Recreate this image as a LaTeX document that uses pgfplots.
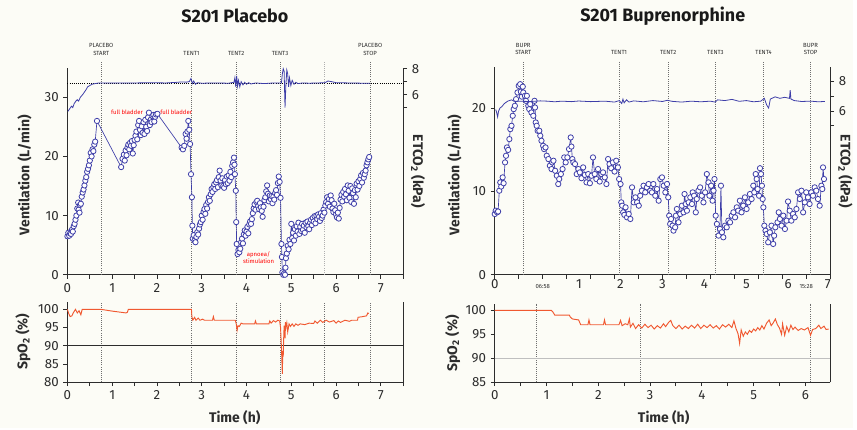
\documentclass[border=0pt]{standalone}
\usepackage{pgfplots}
\pgfplotsset{compat=1.18}
\usepackage{fontspec}
\setmainfont{Fira Sans}
\definecolor{vblue}{RGB}{62,62,168}
\definecolor{sred}{RGB}{240,88,48}
\definecolor{bgc}{RGB}{252,252,246}
\definecolor{axg}{RGB}{45,45,45}
\definecolor{dotg}{RGB}{110,110,110}
\tikzset{vdot/.style={dotg, densely dotted, line width=0.6pt},
  tl/.style={font=\fontsize{4.5}{5.5}\selectfont, align=center, anchor=south, text=axg}}
\pgfplotsset{
  base/.style={scale only axis, clip=false, anchor=south west,
    axis line style={axg, line width=0.7pt}, tick style={axg, line width=0.7pt},
    tick align=outside, major tick length=3pt, minor tick length=2pt,
    ticklabel style={font=\fontsize{10}{12}\selectfont, text=axg},
    /pgf/number format/assume math mode=true},
  vent/.style={vblue, line width=0.5pt, mark=*, mark size=2pt, mark options={fill=white, draw=vblue, line width=0.6pt}},
  etco/.style={vblue, line width=0.6pt, no markers},
  spo/.style={sred, line width=0.7pt, no markers},
}
\begin{document}
\begin{tikzpicture}
\fill[bgc] (0,0) rectangle (642.75pt,322.5pt);
% ---------------- LEFT TOP : Placebo ventilation ----------------
\begin{axis}[base, at={(50.8pt,115.5pt)}, width=253pt, height=156pt,
  xmin=0, xmax=7.5, ymin=0, ymax=35, axis x line*=bottom, axis y line*=left,
  xtick={0,0.5,...,7.5}, xticklabels={0,,1,,2,,3,,4,,5,,6,,7,},
  ytick={0,10,20,30}]
\draw[vdot] (axis cs:0.755,0) -- (axis cs:0.755,36);
\draw[vdot] (axis cs:2.77,0) -- (axis cs:2.77,36);
\draw[vdot] (axis cs:3.77,0) -- (axis cs:3.77,36);
\draw[vdot] (axis cs:4.75,0) -- (axis cs:4.75,36);
\draw[vdot] (axis cs:6.76,0) -- (axis cs:6.76,36);
\draw[vdot, dotg!55] (axis cs:5.75,0) -- (axis cs:5.75,36);
\addplot[vent] coordinates {
(0.00,6.5)(0.02,7.1)(0.04,6.6)(0.06,7.0)(0.08,6.9)(0.10,7.6)(0.12,7.3)(0.14,8.2)(0.16,8.6)(0.18,9.3)
(0.20,10.0)(0.22,11.2)(0.24,12.2)(0.25,11.0)(0.27,10.5)(0.28,11.8)(0.30,12.0)(0.32,13.2)(0.34,13.9)(0.36,14.4)
(0.38,15.1)(0.40,15.9)(0.42,16.5)(0.44,17.4)(0.46,17.9)(0.48,18.5)(0.50,19.3)(0.52,20.6)(0.54,20.0)(0.56,21.2)
(0.58,20.9)(0.60,22.0)(0.62,22.5)(0.66,26.0)
(1.20,18.2)(1.23,19.6)(1.26,20.3)(1.28,19.3)(1.30,21.0)(1.32,20.2)(1.34,21.5)(1.36,22.0)(1.38,21.2)(1.40,22.3)
(1.42,21.8)(1.44,22.6)(1.46,20.5)(1.48,21.9)(1.50,22.8)(1.52,23.5)(1.54,24.2)(1.56,22.9)(1.58,25.3)(1.60,26.0)
(1.62,24.5)(1.64,23.6)(1.66,25.1)(1.68,24.0)(1.70,25.8)(1.72,23.8)(1.74,26.2)(1.76,25.0)(1.78,24.3)(1.80,26.6)
(1.82,27.4)(1.84,25.3)(1.86,26.2)(1.88,25.8)(1.90,26.8)(1.92,27.0)(1.94,25.9)(1.96,26.7)(1.98,27.1)(2.01,27.2)
(2.55,21.5)(2.58,21.2)(2.61,21.8)(2.64,23.8)(2.66,23.0)(2.68,24.2)(2.70,26.0)(2.72,24.5)(2.74,22.1)(2.76,17.0)
(2.78,13.1)(2.79,8.3)(2.80,6.1)(2.82,6.7)(2.84,5.8)(2.86,5.5)(2.88,6.4)(2.90,7.2)(2.92,6.8)(2.94,7.8)
(2.96,8.5)(2.98,8.9)(3.00,10.0)(3.02,9.3)(3.04,10.6)(3.06,11.1)(3.08,10.3)(3.10,11.8)(3.12,11.2)(3.14,12.3)
(3.16,13.1)(3.18,12.5)(3.20,13.6)(3.22,14.5)(3.24,14.0)(3.26,14.8)(3.28,15.3)(3.30,14.5)(3.32,15.6)(3.34,16.0)
(3.36,14.8)(3.38,16.5)(3.40,17.6)(3.42,15.9)(3.44,15.1)(3.46,16.3)(3.48,15.0)(3.50,14.7)(3.52,16.0)(3.54,15.3)
(3.56,16.6)(3.58,15.5)(3.60,16.8)(3.62,15.9)(3.64,17.4)(3.66,16.5)(3.68,18.4)(3.70,19.0)(3.72,19.8)(3.73,18.6)
(3.74,17.0)(3.76,14.2)(3.77,8.9)(3.78,5.2)(3.80,3.5)(3.82,4.2)(3.84,3.8)(3.86,4.4)(3.88,5.5)(3.90,6.1)
(3.92,5.3)(3.94,6.8)(3.96,7.5)(3.98,6.6)(4.00,7.3)(4.02,8.1)(4.04,7.0)(4.06,8.5)(4.08,9.0)(4.10,8.6)
(4.12,9.4)(4.14,10.4)(4.16,11.2)(4.18,11.9)(4.20,11.0)(4.22,12.3)(4.24,12.5)(4.26,11.6)(4.28,11.1)(4.30,12.1)
(4.32,11.4)(4.34,10.8)(4.36,9.8)(4.38,11.5)(4.40,12.6)(4.42,13.1)(4.44,14.1)(4.46,15.1)(4.48,13.7)(4.50,12.4)
(4.52,13.4)(4.54,12.8)(4.56,13.3)(4.58,12.1)(4.60,13.2)(4.62,12.7)(4.64,13.8)(4.66,14.3)(4.68,13.5)(4.70,15.5)
(4.72,16.6)(4.74,15.7)(4.76,13.0)(4.78,5.2)(4.79,3.0)(4.80,0.4)(4.82,0.0)(4.84,0.2)(4.86,0.0)(4.87,1.2)
(4.88,2.8)(4.90,3.6)(4.92,4.9)(4.94,4.3)(4.96,5.9)(4.98,5.2)(5.00,8.6)(5.02,6.2)(5.04,7.1)(5.06,5.8)
(5.08,7.7)(5.10,6.6)(5.12,8.2)(5.14,7.3)(5.16,8.8)(5.18,6.9)(5.20,8.1)(5.22,7.4)(5.24,8.6)(5.26,7.6)
(5.28,8.3)(5.30,7.1)(5.32,8.8)(5.34,8.0)(5.36,9.0)(5.38,8.2)(5.40,7.7)(5.42,8.8)(5.44,9.3)(5.46,8.4)
(5.48,9.6)(5.50,9.0)(5.52,9.9)(5.54,8.7)(5.56,10.0)(5.58,9.4)(5.60,10.2)(5.62,9.8)(5.64,9.1)(5.66,10.4)
(5.68,9.6)(5.70,10.0)(5.72,11.0)(5.74,10.5)(5.76,11.7)(5.78,12.3)(5.80,13.1)(5.82,12.0)(5.84,12.8)(5.86,11.5)
(5.88,13.4)(5.90,12.6)(5.92,11.2)(5.94,10.6)(5.96,12.0)(5.98,10.9)(6.00,10.2)(6.02,9.7)(6.04,10.5)(6.06,9.5)
(6.08,11.3)(6.10,12.7)(6.12,13.5)(6.14,12.4)(6.16,14.0)(6.18,13.2)(6.20,14.5)(6.22,13.6)(6.24,12.6)(6.26,15.1)
(6.28,14.2)(6.30,13.0)(6.32,15.0)(6.34,12.3)(6.36,14.6)(6.38,13.8)(6.40,12.0)(6.42,14.3)(6.44,13.1)(6.46,15.4)
(6.48,14.4)(6.50,15.8)(6.52,15.0)(6.54,16.2)(6.56,16.8)(6.58,15.6)(6.60,17.2)(6.62,16.4)(6.64,17.0)(6.66,17.6)
(6.68,18.5)(6.70,19.0)(6.72,19.5)(6.74,19.9)};
\node[text=red, font=\fontsize{4.5}{5}\selectfont] at (axis cs:1.33,27.5) {full bladder};
\node[text=red, font=\fontsize{4.5}{5}\selectfont] at (axis cs:2.43,27.5) {full bladder};
\node[text=red, font=\fontsize{4.5}{5}\selectfont, align=center] at (axis cs:4.27,2.9) {apnoea/\\stimulation};
\node[tl] at (axis cs:0.755,36.3) {PLACEBO\\START};
\node[tl] at (axis cs:2.77,36.3) {TENT1};
\node[tl] at (axis cs:3.77,36.3) {TENT2};
\node[tl] at (axis cs:4.75,36.3) {TENT3};
\node[tl] at (axis cs:6.76,36.3) {PLACEBO\\STOP};
\end{axis}
\begin{axis}[base, at={(50.8pt,115.5pt)}, width=253pt, height=156pt,
  xmin=0, xmax=7.5, ymin=-7.92, ymax=8.08, axis x line=none, axis y line*=right,
  ytick={5,6,7,8}, yticklabels={,6,,8}]
\draw[black, densely dotted, line width=0.6pt] (axis cs:0,6.9) -- (axis cs:7.5,6.9);
\addplot[etco] coordinates {
(0.01,4.7)(0.05,4.9)(0.09,5.1)(0.12,5.0)(0.15,5.3)(0.19,5.5)(0.22,5.6)(0.25,5.5)(0.29,5.8)(0.34,6.0)
(0.38,6.2)(0.42,6.4)(0.45,6.6)(0.5,6.7)(0.55,6.8)(0.62,6.85)(0.7,6.9)(1.0,6.9)(1.5,6.9)(1.9,6.92)
(2.2,6.9)(2.45,6.95)(2.55,6.98)(2.65,6.96)(2.72,7.0)(2.76,7.25)(2.79,6.85)(2.82,7.05)(2.86,6.8)(2.9,6.92)
(3.0,6.88)(3.3,6.9)(3.6,6.88)(3.72,6.95)(3.74,7.3)(3.76,6.6)(3.78,7.45)(3.8,6.65)(3.82,7.1)(3.85,6.6)
(3.88,7.0)(3.92,6.75)(3.96,6.95)(4.0,6.8)(4.05,6.92)(4.1,6.82)(4.2,6.9)(4.4,6.85)(4.6,6.9)(4.78,6.9)
(4.8,7.6)(4.82,8.0)(4.84,7.8)(4.86,5.0)(4.88,6.8)(4.9,7.9)(4.92,7.6)(4.94,6.6)(4.96,7.3)(4.99,6.7)
(5.02,7.1)(5.06,6.8)(5.1,6.95)(5.15,6.85)(5.25,6.9)(5.4,6.88)(5.6,6.9)(5.75,6.92)(5.82,7.05)(5.9,7.0)
(6.0,6.92)(6.3,6.9)(6.6,6.88)(6.76,6.88)};
\end{axis}
% ---------------- LEFT BOTTOM : Placebo SpO2 ----------------
\begin{axis}[base, at={(50.8pt,34.5pt)}, width=253pt, height=60.75pt,
  xmin=0, xmax=7.5, ymin=80, ymax=102.1, axis x line*=bottom, axis y line*=left,
  xtick={0,0.5,...,7.5}, xticklabels={0,,1,,2,,3,,4,,5,,6,,7,},
  ytick={80,85,90,95,100}]
\draw[vdot] (axis cs:0.755,80) -- (axis cs:0.755,102.1);
\draw[vdot] (axis cs:2.77,80) -- (axis cs:2.77,102.1);
\draw[vdot] (axis cs:3.77,80) -- (axis cs:3.77,102.1);
\draw[vdot] (axis cs:4.75,80) -- (axis cs:4.75,102.1);
\draw[vdot] (axis cs:5.75,80) -- (axis cs:5.75,102.1);
\draw[vdot] (axis cs:6.76,80) -- (axis cs:6.76,102.1);
\draw[axg, line width=0.7pt] (axis cs:0,90) -- (axis cs:7.5,90);
\draw[axg, line width=0.7pt] (rel axis cs:1,0) -- (rel axis cs:1,1);
\addplot[spo] coordinates {
(0.00,100)(0.03,98.8)(0.06,98)(0.10,98.2)(0.13,99)(0.18,100)(0.22,99)(0.26,99.6)(0.30,98.5)(0.33,100)
(0.40,100)(0.74,100)(1.00,99.5)(1.31,99)(1.34,99.2)(1.36,100)(2.77,100)(2.78,98)(2.80,97)(2.84,97.8)
(2.87,97)(2.92,97.6)(2.96,97)(3.02,97.3)(3.06,97)(3.10,97)(3.24,97)(3.26,98)(3.28,97)(3.75,97)
(3.77,96)(3.79,94.2)(3.81,95.5)(3.84,95.3)(3.88,96.2)(3.92,96)(4.00,96)(4.18,96)(4.20,96.8)(4.22,96)
(4.50,96)(4.52,96.8)(4.55,96.2)(4.60,96.9)(4.65,96.5)(4.70,97)(4.74,96.8)(4.76,95)(4.78,89.5)(4.79,86)
(4.80,82.3)(4.81,88.5)(4.82,87)(4.83,92)(4.84,95.5)(4.85,94.5)(4.86,92)(4.87,96.5)(4.88,95)(4.90,96.3)
(4.92,93.8)(4.95,96)(4.98,95.3)(5.02,96)(5.06,95.3)(5.10,96)(5.15,95.6)(5.2,96)(5.3,95.8)(5.4,96.2)
(5.5,96.1)(5.53,96.8)(5.58,96.2)(5.65,97)(5.70,96.4)(5.78,97)(5.85,96.5)(5.95,96.9)(6.00,96.2)(6.05,96.8)
(6.10,96.4)(6.20,97)(6.30,96.7)(6.35,97)(6.40,97)(6.48,97)(6.49,97.8)(6.60,98)(6.68,98.2)(6.71,99)(6.73,98.8)};
\end{axis}
% ---------------- RIGHT TOP : Buprenorphine ventilation ----------------
\begin{axis}[base, at={(372.75pt,115.5pt)}, width=252.75pt, height=156.75pt,
  xmin=0, xmax=14, ymin=0, ymax=25, axis x line*=bottom, axis y line*=left,
  xtick={0,1,...,14}, xticklabels={},
  extra x ticks={0,3.52,5.24,7.0,8.75,10.5,12.25,13.9}, extra x tick labels={0,1,2,3,4,5,6,7},
  extra x tick style={major tick length=0pt},
  ytick={0,10,20}]
\draw[vdot] (axis cs:1.19,0) -- (axis cs:1.19,25.6);
\draw[vdot] (axis cs:5.19,0) -- (axis cs:5.19,25.6);
\draw[vdot] (axis cs:7.24,0) -- (axis cs:7.24,25.6);
\draw[vdot] (axis cs:9.21,0) -- (axis cs:9.21,25.6);
\draw[vdot] (axis cs:11.22,0) -- (axis cs:11.22,25.6);
\draw[vdot] (axis cs:13.18,0) -- (axis cs:13.18,25.6);
\addplot[vent] coordinates {
(0.00,7.3)(0.04,7.7)(0.10,7.5)(0.14,7.6)(0.19,10.1)(0.23,11.1)(0.27,10.6)(0.33,11.7)(0.37,11.0)(0.43,13.5)
(0.47,14.3)(0.51,15.3)(0.56,15.0)(0.61,16.3)(0.65,17.5)(0.70,17.9)(0.75,19.1)(0.79,19.9)(0.84,20.3)(0.89,21.1)
(0.95,21.9)(1.00,22.7)(1.06,22.9)(1.09,22.0)(1.13,21.4)(1.17,22.6)(1.19,21.9)(1.26,21.5)(1.30,20.9)(1.34,21.5)
(1.40,20.3)(1.44,19.9)(1.48,20.5)(1.53,19.5)(1.61,19.1)(1.66,20.9)(1.68,20.1)(1.71,18.3)(1.75,17.9)(1.79,17.3)
(1.86,17.3)(1.90,16.7)(1.95,16.1)(2.02,15.5)(2.06,15.1)(2.12,15.3)(2.17,14.3)(2.24,13.9)(2.30,13.1)(2.37,12.7)
(2.40,13.5)(2.45,13.7)(2.52,12.5)(2.59,11.9)(2.65,10.9)(2.69,11.5)(2.76,12.1)(2.83,12.7)(2.90,14.1)(2.96,13.5)
(3.03,14.1)(3.10,15.1)(3.17,16.5)(3.20,15.4)(3.24,13.9)(3.28,13.5)(3.35,13.3)(3.42,12.1)(3.49,12.7)(3.55,12.3)
(3.62,11.6)(3.69,12.9)(3.76,12.0)(3.83,11.1)(3.90,12.1)(3.97,11.0)(4.04,11.9)(4.10,14.1)(4.17,12.1)(4.24,11.5)
(4.31,12.7)(4.38,11.2)(4.45,12.1)(4.52,12.3)(4.59,11.7)(4.66,10.9)(4.73,13.9)(4.79,13.3)(4.86,12.8)(4.93,13.5)
(5.00,12.4)(5.07,13.7)(5.14,12.9)(5.19,11.5)(5.25,10.9)(5.28,8.7)(5.32,8.3)(5.36,7.5)(5.41,7.2)(5.46,8.1)
(5.52,6.9)(5.59,7.3)(5.66,6.7)(5.73,10.5)(5.80,8.7)(5.87,9.3)(5.94,8.7)(6.01,8.3)(6.07,9.5)(6.14,10.1)
(6.21,10.7)(6.28,9.9)(6.35,10.5)(6.42,10.9)(6.49,10.1)(6.56,9.9)(6.62,10.9)(6.70,9.5)(6.77,10.3)(6.84,8.9)
(6.91,11.5)(6.98,11.7)(7.05,10.7)(7.12,9.9)(7.19,10.9)(7.24,9.3)(7.28,7.1)(7.32,6.1)(7.36,6.7)(7.42,5.9)
(7.46,5.3)(7.53,5.7)(7.56,7.1)(7.60,7.9)(7.67,6.3)(7.74,7.3)(7.81,8.3)(7.88,7.5)(7.92,9.7)(7.97,8.5)
(8.02,7.7)(8.09,8.7)(8.16,9.3)(8.23,8.5)(8.26,9.9)(8.32,9.5)(8.39,7.5)(8.43,9.1)(8.50,10.1)(8.57,10.5)
(8.64,9.5)(8.71,8.7)(8.78,9.9)(8.85,12.1)(8.92,11.1)(8.96,9.5)(9.03,10.7)(9.09,8.9)(9.13,10.1)(9.17,11.5)
(9.22,7.1)(9.27,6.1)(9.34,4.7)(9.40,5.5)(9.44,10.7)(9.48,5.1)(9.54,4.5)(9.61,5.9)(9.68,5.7)(9.75,6.5)
(9.82,6.3)(9.89,7.1)(9.96,7.5)(10.03,6.9)(10.10,8.1)(10.16,7.7)(10.23,8.9)(10.30,7.5)(10.37,8.3)(10.44,9.3)
(10.51,7.9)(10.58,8.7)(10.65,9.7)(10.72,9.1)(10.79,10.7)(10.83,9.9)(10.89,12.1)(10.93,11.5)(10.97,10.3)(11.03,9.5)
(11.07,12.8)(11.11,12.1)(11.15,10.7)(11.18,9.1)(11.21,8.1)(11.25,5.9)(11.30,5.3)(11.35,4.9)(11.41,3.9)(11.48,5.1)
(11.55,5.9)(11.62,3.7)(11.66,4.7)(11.71,5.7)(11.80,6.3)(11.85,7.5)(11.90,6.7)(11.97,5.9)(12.04,7.1)(12.11,5.5)
(12.18,6.5)(12.24,8.8)(12.31,7.7)(12.38,6.5)(12.45,7.3)(12.52,6.9)(12.59,7.9)(12.66,9.9)(12.73,9.1)(12.80,10.1)
(12.87,7.5)(12.94,8.7)(13.00,9.9)(13.07,9.3)(13.14,8.5)(13.21,9.9)(13.28,9.5)(13.35,10.5)(13.42,10.1)(13.49,9.1)
(13.56,8.3)(13.63,10.7)(13.67,10.3)(13.70,12.9)(13.74,11.5)};
\node[font=\fontsize{4.5}{5}\selectfont, anchor=north, text=axg] at (axis cs:2,-0.55) {06:58};
\node[font=\fontsize{4.5}{5}\selectfont, anchor=north, text=axg] at (axis cs:13,-0.55) {15:28};
\node[tl] at (axis cs:1.19,25.9) {BUPR\\START};
\node[tl] at (axis cs:5.19,25.9) {TENT1};
\node[tl] at (axis cs:7.24,25.9) {TENT2};
\node[tl] at (axis cs:9.21,25.9) {TENT3};
\node[tl] at (axis cs:11.22,25.9) {TENT4};
\node[tl] at (axis cs:13.18,25.9) {BUPR\\STOP};
\end{axis}
\begin{axis}[base, at={(372.75pt,115.5pt)}, width=252.75pt, height=156.75pt,
  xmin=0, xmax=14, ymin=-4.97, ymax=8.97, axis x line=none, axis y line*=right,
  ytick={5,6,7,8,9}, yticklabels={,6,,8,}]
\addplot[etco] coordinates {
(0.04,6.1)(0.08,5.9)(0.12,5.6)(0.16,6.0)(0.22,6.2)(0.30,6.3)(0.40,6.5)(0.54,6.66)(0.70,6.75)(0.80,6.66)
(1.5,6.64)(1.9,6.68)(2.2,6.66)(2.5,6.62)(2.8,6.66)(3.2,6.63)(3.5,6.67)(4.0,6.63)(4.6,6.66)(5.0,6.6)
(5.2,6.7)(5.3,6.5)(5.35,6.8)(5.4,6.55)(5.5,6.75)(5.6,6.6)(5.8,6.68)(6.2,6.62)(6.6,6.7)(7.0,6.64)
(7.2,6.72)(7.4,6.65)(7.8,6.6)(8.2,6.66)(8.6,6.62)(9.0,6.66)(9.2,6.6)(9.3,6.75)(9.6,6.7)(9.9,6.78)
(10.2,6.65)(10.5,6.7)(10.8,6.62)(11.1,6.66)(11.25,6.85)(11.35,6.4)(11.43,6.2)(11.5,6.8)(11.7,6.95)(11.9,6.85)
(12.1,6.92)(12.3,6.85)(12.33,7.4)(12.36,6.8)(12.5,6.7)(12.8,6.64)(13.2,6.66)(13.5,6.62)(13.78,6.64)};
\end{axis}
% ---------------- RIGHT BOTTOM : Buprenorphine SpO2 ----------------
\begin{axis}[base, at={(372.75pt,34.5pt)}, width=252.75pt, height=59.25pt,
  xmin=0, xmax=6.48, ymin=85, ymax=101.4, axis x line*=bottom, axis y line*=left,
  xtick={0,0.5,...,6}, xticklabels={0,,1,,2,,3,,4,,5,,6},
  ytick={85,90,95,100}]
\draw[vdot] (axis cs:0.8,85) -- (axis cs:0.8,101.4);
\draw[vdot] (axis cs:2.81,85) -- (axis cs:2.81,101.4);
\draw[vdot] (axis cs:6.09,85) -- (axis cs:6.09,101.4);
\draw[gray!50, line width=0.6pt] (axis cs:0,90) -- (axis cs:6.48,90);
\draw[axg, line width=0.7pt] (rel axis cs:1,0) -- (rel axis cs:1,1);
\addplot[spo] coordinates {
(0.00,100)(1.09,100)(1.12,99.7)(1.16,99)(1.44,99)(1.46,98.6)(1.50,98.2)(1.62,98)(1.66,97)(1.80,97)
(1.82,98)(1.84,97)(2.10,97)(2.12,98)(2.14,97)(2.40,97)(2.43,97.9)(2.46,96.8)(2.52,97.2)(2.57,97.0)
(2.60,98.2)(2.62,96.5)(2.67,97.3)(2.72,96.2)(2.78,97)(2.84,96.3)(2.90,97.1)(2.96,96.4)(3.02,96.9)(3.08,96.1)
(3.14,96.8)(3.20,96.3)(3.26,97.2)(3.30,96.6)(3.36,97.5)(3.40,97.9)(3.44,96.8)(3.50,96.2)(3.56,96.9)(3.62,96.1)
(3.68,96.7)(3.74,96.2)(3.80,96.9)(3.86,96.3)(3.92,97.1)(3.98,96.2)(4.04,96.9)(4.10,96.4)(4.16,97)(4.22,96.3)
(4.28,96.8)(4.34,96.1)(4.40,97)(4.46,96.5)(4.52,97.1)(4.58,96.4)(4.62,97.8)(4.66,96.2)(4.70,95.1)(4.73,93.1)
(4.76,95.9)(4.80,94.6)(4.84,95.5)(4.88,95.0)(4.92,95.8)(4.96,95.4)(5.00,96.1)(5.04,95.7)(5.08,96.4)(5.12,95.9)
(5.16,96.8)(5.20,96.1)(5.25,97.3)(5.30,98.0)(5.34,96.8)(5.38,97.4)(5.42,98.2)(5.46,97.0)(5.50,96.3)(5.54,95.0)
(5.56,97.2)(5.60,94.8)(5.64,96.6)(5.68,95.5)(5.72,96.9)(5.76,96.0)(5.80,96.5)(5.86,95.8)(5.92,96.2)(5.98,95.9)
(6.05,96.4)(6.10,94.8)(6.14,96.0)(6.20,96.2)(6.26,96.9)(6.30,96.2)(6.36,96.7)(6.40,96.0)(6.45,96.1)};
\end{axis}
% ---------------- titles and labels ----------------
\node[font=\fontsize{13.5}{16}\selectfont\bfseries, text=black!90] at (177pt,310.3pt) {S201 Placebo};
\node[font=\fontsize{13.5}{16}\selectfont\bfseries, text=black!90] at (499.3pt,310.5pt) {S201 Buprenorphine};
\node[font=\fontsize{10.5}{12}\selectfont\bfseries, rotate=90, text=axg] at (18.5pt,190.5pt) {Ventilation (L/min)};
\node[font=\fontsize{10.5}{12}\selectfont\bfseries, rotate=90, text=axg] at (342.5pt,190.5pt) {Ventilation (L/min)};
\node[font=\fontsize{10.5}{12}\selectfont\bfseries, rotate=-90, text=axg] at (315pt,193.5pt) {ETCO\textsubscript{2} (kPa)};
\node[font=\fontsize{10.5}{12}\selectfont\bfseries, rotate=-90, text=axg] at (637pt,193.5pt) {ETCO\textsubscript{2} (kPa)};
\node[font=\fontsize{10.5}{12}\selectfont\bfseries, rotate=90, text=axg] at (17.3pt,64.9pt) {SpO\textsubscript{2} (\%)};
\node[font=\fontsize{10.5}{12}\selectfont\bfseries, rotate=90, text=axg] at (341pt,63.8pt) {SpO\textsubscript{2} (\%)};
\node[font=\fontsize{10.5}{12}\selectfont\bfseries, text=axg] at (176.8pt,7.5pt) {Time (h)};
\node[font=\fontsize{10.5}{12}\selectfont\bfseries, text=axg] at (500pt,7.5pt) {Time (h)};
\end{tikzpicture}
\end{document}
